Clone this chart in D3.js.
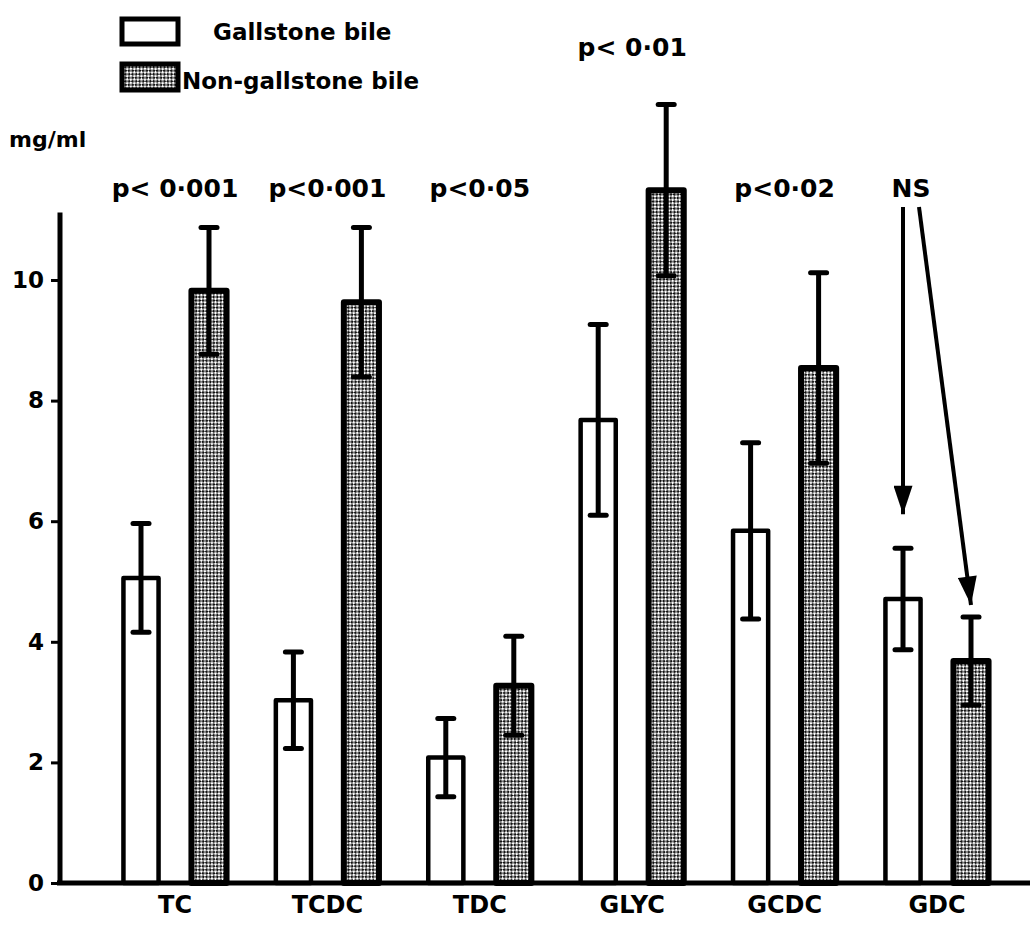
<!DOCTYPE html>
<html>
<head>
<meta charset="utf-8">
<script src="https://cdn.jsdelivr.net/npm/d3@7/dist/d3.min.js"></script>
<style>
  html, body { margin: 0; padding: 0; background: #fff; }
  svg { display: block; }
  text { font-family: "DejaVu Sans", "Liberation Sans", Arial, sans-serif; font-weight: bold; fill: #000; }
</style>
</head>
<body>
<svg id="chart" width="1036" height="928"></svg>
<script>
// Bile acid concentrations (mg/ml), mean and error for each group
const categories = ["TC", "TCDC", "TDC", "GLYC", "GCDC", "GDC"];
const series = ["Gallstone bile", "Non-gallstone bile"];
const gallstoneMean = [5.06, 3.03, 2.08, 7.68, 5.84, 4.71];
const gallstoneErr  = [0.90, 0.80, 0.65, 1.58, 1.46, 0.84];
const nonGallstoneMean = [9.82, 9.63, 3.27, 11.49, 8.54, 3.68];
const nonGallstoneErr  = [1.05, 1.24, 0.82, 1.42, 1.58, 0.73];
const pLabels = ["p< 0\u00B7001", "p<0\u00B7001", "p<0\u00B705", "p< 0\u00B701", "p<0\u00B702", "NS"];
const yTicks = [0, 2, 4, 6, 8, 10];
const yLabel = "mg/ml";

const rows = categories.map((c, i) => ({
  cat: c,
  p: pLabels[i],
  bars: [
    { series: series[0], mean: gallstoneMean[i], err: gallstoneErr[i] },
    { series: series[1], mean: nonGallstoneMean[i], err: nonGallstoneErr[i] }
  ]
}));

const svg = d3.select("#chart");
const ink = "#000";
const font = "'DejaVu Sans', 'Liberation Sans', Arial, sans-serif";

// Fine stipple used for the non-gallstone bars
const defs = svg.append("defs");
const pat = defs.append("pattern")
  .attr("id", "stipple")
  .attr("patternUnits", "userSpaceOnUse")
  .attr("width", 5).attr("height", 5)
  .attr("patternTransform", "rotate(45)");
pat.append("rect").attr("width", 5).attr("height", 5).attr("fill", "#111");
pat.append("rect").attr("width", 2.5).attr("height", 2.5).attr("fill", "#fff");
pat.append("rect").attr("x", 2.5).attr("y", 2.5).attr("width", 2.5).attr("height", 2.5).attr("fill", "#fff");

const axisX = 60;
const x = d3.scaleBand().domain(categories).range([98.8, 1013.2]).paddingInner(0).paddingOuter(0);
const xInner = d3.scaleBand().domain(series)
  .range([x.bandwidth() / 2 - 68, x.bandwidth() / 2 + 68])
  .paddingInner(0.41).paddingOuter(0.205);
const y = d3.scaleLinear().domain([0, 10]).range([883, 280]);
const fillFor = s => s === series[0] ? "#fff" : "url(#stipple)";

// Bars
const groups = svg.append("g").selectAll("g.group")
  .data(rows).join("g")
  .attr("class", "group")
  .attr("transform", d => `translate(${x(d.cat)},0)`);

groups.selectAll("rect.bar")
  .data(d => d.bars).join("rect")
  .attr("class", "bar")
  .attr("x", d => xInner(d.series) + 2.5)
  .attr("y", d => y(d.mean))
  .attr("width", xInner.bandwidth() - 5)
  .attr("height", d => y(0) - y(d.mean))
  .attr("fill", d => fillFor(d.series))
  .attr("stroke", ink)
  .attr("stroke-width", d => d.series === series[0] ? 4.5 : 6)
  .attr("stroke-linejoin", "round");

// Error bars
const eb = groups.selectAll("g.err").data(d => d.bars).join("g").attr("class", "err")
  .attr("transform", d => `translate(${xInner(d.series) + xInner.bandwidth() / 2},0)`);
eb.append("line")
  .attr("x1", 0).attr("x2", 0)
  .attr("y1", d => y(d.mean + d.err)).attr("y2", d => y(d.mean - d.err))
  .attr("stroke", ink).attr("stroke-width", 5);
eb.selectAll("line.cap")
  .data(d => [d.mean + d.err, d.mean - d.err]).join("line")
  .attr("class", "cap")
  .attr("x1", -8).attr("x2", 8)
  .attr("y1", v => y(v)).attr("y2", v => y(v))
  .attr("stroke", ink).attr("stroke-width", 5).attr("stroke-linecap", "round");

// Axes
svg.append("line")
  .attr("x1", axisX).attr("x2", axisX)
  .attr("y1", y(0) + 2).attr("y2", y(11.12))
  .attr("stroke", ink).attr("stroke-width", 5);
svg.append("line")
  .attr("x1", axisX - 3).attr("x2", 1030)
  .attr("y1", y(0)).attr("y2", y(0))
  .attr("stroke", ink).attr("stroke-width", 5);

const yAxis = svg.append("g")
  .attr("transform", `translate(${axisX},0)`)
  .call(d3.axisLeft(y).tickValues(yTicks).tickSize(9).tickPadding(7));
yAxis.select(".domain").remove();
yAxis.selectAll(".tick line").attr("stroke", ink).attr("stroke-width", 3);
yAxis.selectAll(".tick text")
  .attr("font-size", 23).attr("font-family", font)
  .attr("font-weight", "bold").attr("fill", ink);

const xAxis = svg.append("g")
  .attr("transform", `translate(0,${y(0)})`)
  .call(d3.axisBottom(x).tickSize(0).tickPadding(13));
xAxis.select(".domain").remove();
xAxis.selectAll(".tick text")
  .attr("font-size", 24).attr("font-family", font)
  .attr("font-weight", "bold").attr("fill", ink);

// Unit label
svg.append("text").attr("x", 9).attr("y", 147).attr("font-size", 22).text(yLabel);

// Significance labels: one row, lifted above any error bar that reaches it
const rowY = 197;
groups.append("text")
  .attr("x", x.bandwidth() / 2)
  .attr("y", d => {
    const hi = y(d3.max(d.bars, b => b.mean + b.err));
    return hi < rowY - 40 ? hi - 49 : rowY;
  })
  .attr("text-anchor", "middle")
  .attr("font-size", 25)
  .text(d => d.p);

// "NS" arrows pointing at the GDC bars
defs.append("marker")
  .attr("id", "head")
  .attr("markerUnits", "userSpaceOnUse")
  .attr("orient", "auto")
  .attr("viewBox", "0 0 30 20")
  .attr("refX", 30).attr("refY", 10)
  .attr("markerWidth", 30).attr("markerHeight", 19)
  .append("path").attr("d", "M0,0 L30,10 L0,20 Z").attr("fill", ink);

const nsRow = rows[rows.length - 1];
const nsStart = x(nsRow.cat) + xInner(series[0]) + xInner.bandwidth() / 2;
const nsGap = [34, 12];
nsRow.bars.forEach((b, i) => {
  const tipX = x(nsRow.cat) + xInner(b.series) + xInner.bandwidth() / 2;
  const tipY = y(b.mean + b.err) - nsGap[i];
  svg.append("line")
    .attr("x1", nsStart + i * 16).attr("y1", 207)
    .attr("x2", tipX).attr("y2", tipY)
    .attr("stroke", ink).attr("stroke-width", 4)
    .attr("marker-end", "url(#head)");
});
// the NS label itself is drawn by the label row above; nudge it over the arrows
groups.filter(d => d.cat === nsRow.cat).select("text")
  .attr("x", nsStart + 8 - x(nsRow.cat));

// Legend
const legend = svg.append("g");
legend.append("rect").attr("x", 122).attr("y", 19).attr("width", 56).attr("height", 25)
  .attr("fill", "#fff").attr("stroke", ink).attr("stroke-width", 5);
legend.append("text").attr("x", 213).attr("y", 40).attr("font-size", 23).text(series[0]);
legend.append("rect").attr("x", 122).attr("y", 64).attr("width", 56).attr("height", 26)
  .attr("fill", "url(#stipple)").attr("stroke", ink).attr("stroke-width", 5);
legend.append("text").attr("x", 182).attr("y", 89).attr("font-size", 23).text(series[1]);
</script>
</body>
</html>
